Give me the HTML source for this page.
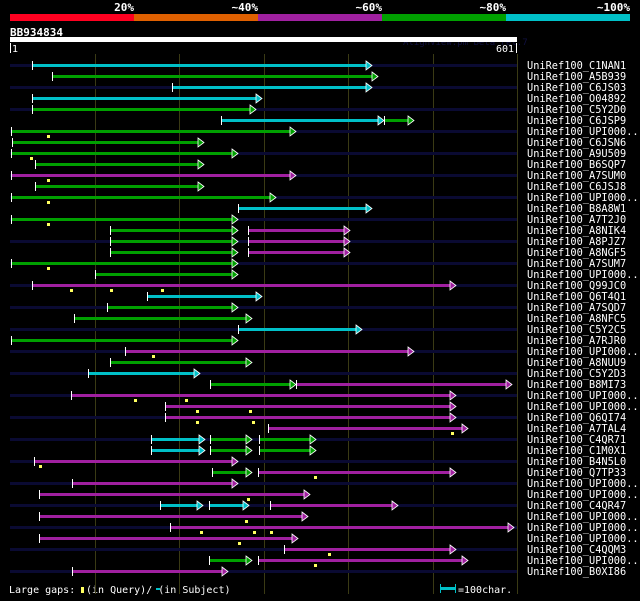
<!DOCTYPE html>
<html><head><meta charset="utf-8"><style>
body{margin:0;background:#000;width:640px;height:597px;overflow:hidden;font-family:"DejaVu Sans Mono","Liberation Mono",monospace;}
svg text{font-family:"DejaVu Sans Mono","Liberation Mono",monospace;}
</style></head><body>
<svg id="chart" width="640" height="597" xmlns="http://www.w3.org/2000/svg" shape-rendering="crispEdges">
<rect width="640" height="597" fill="#000"/>
<g id="legend"></g>
<g id="grid"></g>
<g id="rows"></g>
</svg>
<script>
const names=["C1NAN1","A5B939","C6JS03","O04892","C5Y2D0","C6JSP9","UPI000..","C6JSN6","A9U509","B6SQP7","A7SUM0","C6JSJ8","UPI000..","B8A8W1","A7T2J0","A8NIK4","A8PJZ7","A8NGF5","A7SUM7","UPI000..","Q99JC0","Q6T4Q1","A7SQD7","A8NFC5","C5Y2C5","A7RJR0","UPI000..","A8NUU9","C5Y2D3","B8MI73","UPI000..","UPI000..","Q6QI74","A7TAL4","C4QR71","C1M0X1","B4N5L0","Q7TP33","UPI000..","UPI000..","C4QR47","UPI000..","UPI000..","UPI000..","C4QQM3","UPI000..","B0XI86"];
// segments per row: [start, end, colorClass] in residues (c=cyan,g=green,m=magenta)
const segments=[
[[27,429,"c"]],[[51,436,"g"]],[[193,429,"c"]],[[27,299,"c"]],[[27,292,"g"]],
[[251,444,"c"],[444,479,"g"]],[[2,339,"g"]],[[3,231,"g"]],[[2,271,"g"]],[[31,231,"g"]],
[[2,339,"m"]],[[31,231,"g"]],[[2,316,"g"]],[[271,429,"c"]],[[2,271,"g"]],
[[119,271,"g"],[283,403,"m"]],[[119,271,"g"],[283,403,"m"]],[[119,271,"g"],[283,403,"m"]],
[[2,271,"g"]],[[102,271,"g"]],[[27,529,"m"]],[[163,299,"c"]],[[116,271,"g"]],[[77,287,"g"]],
[[271,418,"c"]],[[2,271,"g"]],[[137,479,"m"]],[[119,287,"g"]],[[93,226,"c"]],
[[238,339,"g"],[339,595,"m"]],[[73,529,"m"]],[[184,529,"m"]],[[184,529,"m"]],[[306,543,"m"]],
[[168,232,"c"],[238,287,"g"],[296,363,"g"]],[[168,232,"c"],[238,287,"g"],[296,363,"g"]],
[[29,271,"m"]],[[240,287,"g"],[294,529,"m"]],[[74,271,"m"]],[[35,356,"m"]],
[[179,229,"c"],[236,284,"c"],[309,460,"m"]],[[35,354,"m"]],[[190,597,"m"]],[[35,342,"m"]],
[[325,529,"m"]],[[236,287,"g"],[294,543,"m"]],[[74,259,"m"]]
];
const queryGaps=[[],[],[],[],[],[],[46],[],[26],[],[46],[],[46],[],[46],[],[],[],[46],[],[73,121,181],[],[],[],[],[],[170],[],[],[],[149,209],[222,285],[222,289],[524],[],[],[37],[362],[],[283],[],[280],[227,290,310],[272],[378],[362],[]];
const colors={c:"#00c0c8",g:"#00a000",m:"#a020a0"};
const legendLabels=["20%","~40%","~60%","~80%","~100%"];
const legendColors=["#ff0020","#e06000","#a020a0","#00a000","#00c0c8"];
const gridTicks=[100,200,300,400,500,600];
const qLen=601;
const X0=10,X1=517;
function xs(r){return Math.round(X0+(r-1)*(X1-X0)/(qLen-1));}
function ys(i){return 65+i*11;}
const NS="http://www.w3.org/2000/svg";
function mk(t,a,p){const e=document.createElementNS(NS,t);for(const k in a)e.setAttribute(k,a[k]);p.appendChild(e);return e;}
const L=document.getElementById('legend'),G=document.getElementById('grid'),R=document.getElementById('rows');
legendColors.forEach((c,i)=>{
 const r=mk('rect',{x:10+i*124,y:14,width:124,height:7,fill:c},L);
 
 
 const t=mk('text',{x:134+i*124,y:11,fill:'#fff','font-size':11,'font-weight':'bold','text-anchor':'end'},L);
 t.textContent=legendLabels[i];
 
 
});
let t=mk('text',{x:10,y:36,fill:'#fff','font-size':11,'font-weight':'bold'},L);t.textContent="BB934834";

t=mk('text',{x:403,y:45,fill:'#101040','font-size':9},L);t.textContent="AlignView.pm Beta rel.7";

let r=mk('rect',{x:10,y:37,width:507,height:5,fill:'#fff'},L);

mk('rect',{x:10,y:43,width:1,height:10,fill:'#fff'},L);mk('rect',{x:516,y:43,width:1,height:10,fill:'#fff'},L);
t=mk('text',{x:12,y:52,fill:'#fff','font-size':10},L);t.textContent="1";

t=mk('text',{x:514,y:52,fill:'#fff','font-size':10,'text-anchor':'end'},L);t.textContent="601";

gridTicks.forEach(v=>{const l=mk('rect',{x:xs(v+1),y:54,width:1,height:540,fill:'#3a3a14'},G);
 });
names.forEach((n,i)=>{
 const y=ys(i);
 const g=mk('g',{},R);
 
 
 if(i%2===0)mk('rect',{x:10,y:y-1,width:507,height:3,fill:'#0a0a32'},g);
 segments[i].forEach((s,j)=>{
  const a=xs(s[0]),b=xs(s[1]);
  const bar=mk('rect',{x:a,y:y-1,width:Math.max(0,b-a-5),height:3,fill:colors[s[2]]},g);
  
  
  mk('rect',{x:a,y:y-4,width:1,height:9,fill:'#fff'},g);
  mk('polygon',{points:`${b-6},${y-4} ${b},${y+0.5} ${b-6},${y+5}`,fill:colors[s[2]],stroke:'#fff','stroke-width':0.8,'shape-rendering':'auto'},g);
 });
 queryGaps[i].forEach(q=>{const m=mk('rect',{x:xs(q)-1,y:y+4,width:3,height:3,fill:'#ffff60'},g);
  });
 const tx=mk('text',{x:527,y:y+4,fill:'#fff','font-size':10.3,'shape-rendering':'auto'},g);
 tx.textContent="UniRef100_"+n;
 
 
});
t=mk('text',{x:9,y:593,fill:'#fff','font-size':10},L);t.textContent="Large gaps: ";

mk('rect',{x:81,y:587,width:3,height:6,fill:'#ffff60'},L);
t=mk('text',{x:86,y:593,fill:'#fff','font-size':10},L);t.textContent="(in Query)/  (in Subject)";
mk('rect',{x:156,y:588,width:4,height:2,fill:'#00c0c8'},L);
mk('rect',{x:440,y:584,width:1,height:9,fill:'#00c0c8'},L);mk('rect',{x:441,y:587,width:14,height:3,fill:'#00c0c8'},L);mk('rect',{x:455,y:584,width:1,height:9,fill:'#00c0c8'},L);
t=mk('text',{x:458,y:593,fill:'#fff','font-size':10},L);t.textContent="=100char.";

</script>
</body></html>
